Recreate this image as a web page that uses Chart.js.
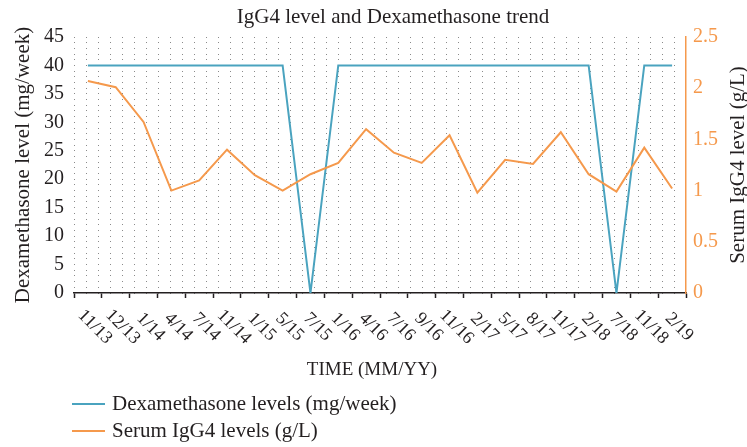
<!DOCTYPE html>
<html>
<head>
<meta charset="utf-8">
<script src="https://cdn.jsdelivr.net/npm/chart.js@4.4.1/dist/chart.umd.min.js"></script>
<style>
  html, body { margin: 0; padding: 0; background: #ffffff; }
  #wrap { width: 747px; height: 447px; }
</style>
</head>
<body>
<div id="wrap"><canvas id="igg4-chart"></canvas></div>
<script>
// data
let timeLabels = ["11/13", "12/13", "1/14", "4/14", "7/14", "11/14", "1/15", "5/15", "7/15", "1/16", "4/16",
  "7/16", "9/16", "11/16", "2/17", "5/17", "8/17", "11/17", "2/18", "7/18", "11/18", "2/19"];
let dexaLevels = [40, 40, 40, 40, 40, 40, 40, 40, 0, 40, 40, 40, 40, 40, 40, 40, 40, 40, 40, 0, 40, 40];
let igg4Levels = [2.07, 2.01, 1.67, 1.0, 1.1, 1.4, 1.15, 1.0, 1.16, 1.27, 1.6, 1.37, 1.27, 1.54, 0.98, 1.3,
  1.26, 1.57, 1.16, 0.99, 1.42, 1.02];
let leftTicksMax = 45;
let rightTicksMax = 2.5;

let titleText = "IgG4 level and Dexamethasone trend";
let xTitle = "TIME (MM/YY)";
let leftTitle = "Dexamethasone level (mg/week)";
let rightTitle = "Serum IgG4 level (g/L)";
let dexaName = "Dexamethasone levels (mg/week)";
let igg4Name = "Serum IgG4 levels (g/L)";

let blue = "#4aa3bf";
let orange = "#f5994c";
let ink = "#231f20";
let serif = "'Liberation Serif', 'Times New Roman', serif";

// draws the texts that chart.js can't place the same way (rotated ticks, right title, legend)
let extraTexts = {
  id: "extraTexts",
  afterDraw: function (chart) {
    let ctx = chart.ctx;
    let xScale = chart.scales.x;
    let area = chart.chartArea;
    ctx.save();
    ctx.fillStyle = ink;

    // title
    ctx.font = "21px " + serif;
    ctx.textAlign = "center";
    ctx.textBaseline = "middle";
    ctx.fillText(titleText, 393, 17);

    // x tick labels, turned 45 degrees clockwise
    ctx.font = "18px " + serif;
    timeLabels.forEach(function (label, i) {
      let x = xScale.getPixelForValue(i) + 7;
      ctx.save();
      ctx.translate(x, area.bottom + 34);
      ctx.rotate(Math.PI / 4);
      ctx.fillText(label, 0, 0);
      ctx.restore();
    });

    // x axis title
    ctx.font = "19px " + serif;
    ctx.fillText(xTitle, 372, 370);

    // right axis title, reads bottom to top
    ctx.font = "21px " + serif;
    ctx.save();
    ctx.translate(738, (area.top + area.bottom) / 2);
    ctx.rotate(-Math.PI / 2);
    ctx.fillText(rightTitle, 0, 0);
    ctx.restore();

    // legend
    let rows = [[dexaName, blue, 404], [igg4Name, orange, 431]];
    ctx.font = "21px " + serif;
    ctx.textAlign = "left";
    rows.forEach(function (row) {
      ctx.strokeStyle = row[1];
      ctx.lineWidth = 2;
      ctx.beginPath();
      ctx.moveTo(72, row[2]);
      ctx.lineTo(105, row[2]);
      ctx.stroke();
      ctx.fillStyle = ink;
      ctx.fillText(row[0], 112, row[2]);
    });
    ctx.restore();
  },
};

let config = {
  type: "line",
  data: {
    labels: timeLabels,
    datasets: [
      {
        label: igg4Name,
        data: igg4Levels,
        yAxisID: "y1",
        borderColor: orange,
        backgroundColor: orange,
        borderWidth: 2,
        pointRadius: 0,
        tension: 0,
      },
      {
        label: dexaName,
        data: dexaLevels,
        yAxisID: "y",
        borderColor: blue,
        backgroundColor: blue,
        borderWidth: 2,
        pointRadius: 0,
        tension: 0,
      },
    ],
  },
  options: {
    responsive: true,
    maintainAspectRatio: false,
    animation: false,
    layout: {
      padding: { top: 37, left: 0, right: 0, bottom: 0 },
    },
    plugins: {
      legend: { display: false },
      title: { display: false },
      tooltip: { enabled: false },
    },
    scales: {
      x: {
        type: "category",
        offset: true,
        grid: {
          display: true,
          offset: true,
          drawOnChartArea: false,
          drawTicks: true,
          tickLength: 5,
          tickColor: ink,
          tickWidth: 1.5,
        },
        border: { display: true, color: ink, width: 1.5 },
        ticks: { display: false },
        afterFit: function (scale) {
          scale.height = 154;
        },
      },
      y: {
        position: "left",
        min: 0,
        max: leftTicksMax,
        ticks: {
          stepSize: 1,
          autoSkip: false,
          padding: 10,
          color: ink,
          font: { family: serif, size: 20 },
          callback: function (value) {
            return value % 5 === 0 ? value : "";
          },
        },
        grid: {
          color: "#8a8a8a",
          lineWidth: 1,
          drawTicks: false,
        },
        border: { display: false, dash: [1, 11] },
        title: {
          display: true,
          text: leftTitle,
          color: ink,
          font: { family: serif, size: 21 },
          padding: { top: 11, bottom: 0 },
        },
        afterFit: function (scale) {
          scale.width = 74;
        },
      },
      y1: {
        position: "right",
        min: 0,
        max: rightTicksMax,
        ticks: {
          stepSize: 0.5,
          padding: 7,
          color: orange,
          font: { family: serif, size: 20 },
          callback: function (value) {
            return String(value);
          },
        },
        grid: { drawOnChartArea: false, drawTicks: false },
        border: { display: true, color: orange, width: 1.5 },
        afterFit: function (scale) {
          scale.width = 61;
        },
      },
    },
  },
  plugins: [extraTexts],
};

let igg4Chart = new Chart(document.getElementById("igg4-chart"), config);
</script>
</body>
</html>
